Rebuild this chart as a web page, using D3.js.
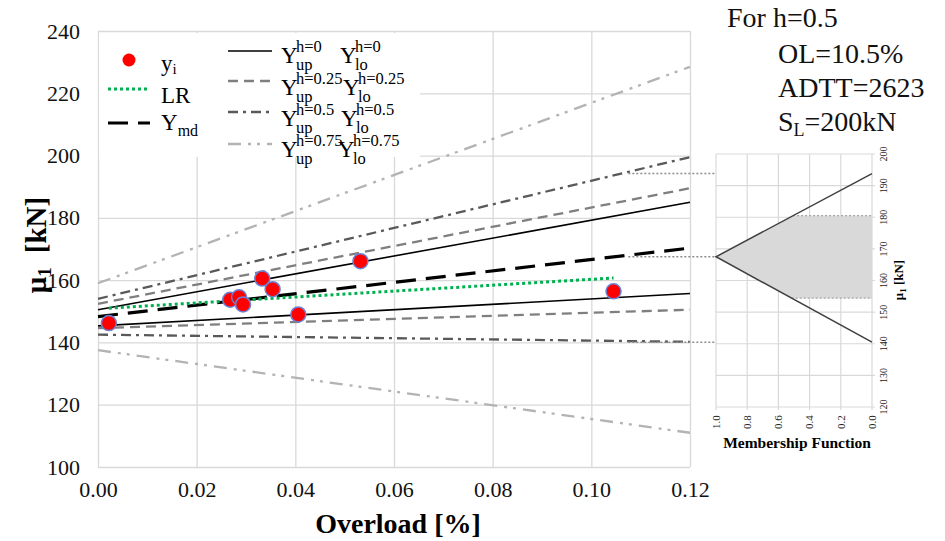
<!DOCTYPE html>
<html><head><meta charset="utf-8">
<script src="https://cdn.jsdelivr.net/npm/d3@7"></script>
<style>body{margin:0;background:#fff;overflow:hidden}</style>
</head><body>
<svg id="c" width="945" height="541"></svg>
<script>
// ---------- data ----------
const overload = [0.0022, 0.0268, 0.0286, 0.0294, 0.0333, 0.0354, 0.0406, 0.0532, 0.1045];
const mu1 = [146.2, 153.7, 154.5, 152.2, 160.5, 157.1, 149.0, 166.1, 156.4];

const lineX = [0, 0.12];
const yUp0 = [150.5, 185.0];
const yLo0 = [145.3, 155.7];
const yUp025 = [152.4, 189.5];
const yLo025 = [144.6, 150.5];
const yUp05 = [154.0, 199.5];
const yLo05 = [142.5, 140.2];
const yUp075 = [159.0, 228.5];
const yLo075 = [137.5, 111.0];
const yMd = [148.3, 170.3];
const lrX = [0.0022, 0.1045];
const lrY = [151.0, 160.7];

const xTickVals = [0, 0.02, 0.04, 0.06, 0.08, 0.10, 0.12];
const yTickVals = [100, 120, 140, 160, 180, 200, 220, 240];

// membership function panel
const mfTickVals = [0, 0.2, 0.4, 0.6, 0.8, 1.0];
const muTickVals = [120, 130, 140, 150, 160, 170, 180, 190, 200];
const mfLevel = [0, 1, 0];
const mfMu = [193.8, 167.5, 140.5];
const band = [154.4, 180.5];
const olCut = 0.1075;

const infoLines = ["For h=0.5", "OL=10.5%", "ADTT=2623"];

// ---------- drawing ----------
const svg = d3.select('#c');

const x = d3.scaleLinear().domain([0, 0.12]).range([98, 690]);
const y = d3.scaleLinear().domain([100, 240]).range([467, 31]);

// axes + grid
const gx = svg.append('g').attr('transform', `translate(0,${y(100)})`)
  .call(d3.axisBottom(x).tickValues(xTickVals).tickSize(-(y(100) - y(240)))
    .tickPadding(14).tickFormat(d3.format('.2f')));
gx.select('.domain').remove();
gx.selectAll('line').attr('stroke', '#d9d9d9').attr('stroke-width', 1.3);
gx.selectAll('text').attr('font-size', 22).attr('fill', '#111');

const gy = svg.append('g').attr('transform', `translate(${x(0)},0)`)
  .call(d3.axisLeft(y).tickValues(yTickVals).tickSize(-(x(0.12) - x(0)))
    .tickPadding(18).tickFormat(d3.format('d')));
gy.select('.domain').remove();
gy.selectAll('line').attr('stroke', '#d9d9d9').attr('stroke-width', 1.3);
gy.selectAll('text').attr('font-size', 22).attr('fill', '#111');

// axis titles
svg.append('text').attr('x', 398).attr('y', 533).attr('text-anchor', 'middle')
  .attr('font-size', 28).attr('font-weight', 'bold').text('Overload [%]');
const yt = svg.append('text').attr('transform', 'translate(46,245) rotate(-90)')
  .attr('text-anchor', 'middle').attr('font-size', 29).attr('font-weight', 'bold');
yt.append('tspan').text('μ');
yt.append('tspan').attr('font-size', 19).attr('dy', 5).text('1');
yt.append('tspan').attr('dy', -5).attr('dx', 14).text('[kN]');

// styles
const styles = {
  h0: {stroke: '#000', width: 1.6, dash: null},
  h025: {stroke: '#7f7f7f', width: 2.3, dash: '10,6'},
  h05: {stroke: '#595959', width: 2.3, dash: '10,5,3,5'},
  h075: {stroke: '#b3b3b3', width: 2.3, dash: '13,7,3,6,3,7'},
  md: {stroke: '#000', width: 3.2, dash: '20,10'},
  lr: {stroke: '#00b050', width: 3, dash: '3,3'}
};
const series = [
  {v: yUp075, s: 'h075'}, {v: yLo075, s: 'h075'},
  {v: yUp05, s: 'h05'}, {v: yLo05, s: 'h05'},
  {v: yUp025, s: 'h025'}, {v: yLo025, s: 'h025'},
  {v: yUp0, s: 'h0'}, {v: yLo0, s: 'h0'},
  {v: yMd, s: 'md'}
];
const line = d3.line().x(d => x(d[0])).y(d => y(d[1]));

// legend background (white box over grid)
svg.append('rect').attr('x', 99).attr('y', 33).attr('width', 321).attr('height', 124).attr('fill', '#fff');

series.forEach(se => {
  const st = styles[se.s];
  svg.append('path').datum(lineX.map((xv, i) => [xv, se.v[i]]))
    .attr('d', line).attr('fill', 'none').attr('stroke', st.stroke)
    .attr('stroke-width', st.width).attr('stroke-dasharray', st.dash);
});
svg.append('path').datum(lrX.map((xv, i) => [xv, lrY[i]]))
  .attr('d', line).attr('fill', 'none').attr('stroke', styles.lr.stroke)
  .attr('stroke-width', styles.lr.width).attr('stroke-dasharray', styles.lr.dash);

// connector dotted lines from main chart to MF panel
const mfX = d3.scaleLinear().domain([1, 0]).range([716, 872]);
const mfY = d3.scaleLinear().domain([120, 200]).range([407, 154]);
mfMu.forEach((m, i) => {
  svg.append('line').attr('x1', x(olCut)).attr('x2', mfX(mfLevel[i]))
    .attr('y1', mfY(m)).attr('y2', mfY(m))
    .attr('stroke', '#8c8c8c').attr('stroke-width', 1.5).attr('stroke-dasharray', '2,2');
});

// data points
svg.append('g').selectAll('circle').data(overload.map((o, i) => [o, mu1[i]])).join('circle')
  .attr('cx', d => x(d[0])).attr('cy', d => y(d[1])).attr('r', 7.5)
  .attr('fill', '#ff0000').attr('stroke', '#6a82d6').attr('stroke-width', 1.5);

// legend
const lg = svg.append('g').attr('font-size', 23);
lg.append('circle').attr('cx', 129).attr('cy', 60).attr('r', 6.5).attr('fill', '#ff0000');
function legLine(x1, x2, yy, st) {
  lg.append('line').attr('x1', x1).attr('x2', x2).attr('y1', yy).attr('y2', yy)
    .attr('stroke', st.stroke).attr('stroke-width', st.width).attr('stroke-dasharray', st.dash);
}
legLine(108, 150, 89, styles.lr);
legLine(108, 150, 123, styles.md);
let t = lg.append('text').attr('x', 161).attr('y', 71);
t.append('tspan').text('y'); t.append('tspan').attr('font-size', 15).attr('dy', 3).text('i');
lg.append('text').attr('x', 161).attr('y', 103).text('LR');
t = lg.append('text').attr('x', 161).attr('y', 130);
t.append('tspan').text('Y'); t.append('tspan').attr('font-size', 16).attr('dy', 6).text('md');

const legRows = [
  {s: 'h0', h: 'h=0', ly: 51, by: 63},
  {s: 'h025', h: 'h=0.25', ly: 81, by: 95},
  {s: 'h05', h: 'h=0.5', ly: 112, by: 126},
  {s: 'h075', h: 'h=0.75', ly: 144, by: 157}
];
const loX = [340, 343, 341, 338];
legRows.forEach((r, i) => {
  legLine(228, 272, r.ly, styles[r.s]);
  [[281, 'up'], [loX[i], 'lo']].forEach(([bx, sub]) => {
    lg.append('text').attr('x', bx).attr('y', r.by).text('Y');
    lg.append('text').attr('x', bx + 15).attr('y', r.by - 11).attr('font-size', 16.5).text(r.h);
    lg.append('text').attr('x', bx + 15).attr('y', r.by + 7).attr('font-size', 16.5).text(sub);
  });
});

// info text top right
const info = svg.append('g').attr('font-size', 28).attr('fill', '#111');
info.append('text').attr('x', 727).attr('y', 27).text(infoLines[0]);
info.append('text').attr('x', 778).attr('y', 63).text(infoLines[1]);
info.append('text').attr('x', 778).attr('y', 97).text(infoLines[2]);
t = info.append('text').attr('x', 778).attr('y', 131);
t.append('tspan').text('S'); t.append('tspan').attr('font-size', 18).attr('dy', 5).text('L');
t.append('tspan').attr('dy', -5).text('=200kN');

// ---------- membership panel ----------
const mp = svg.append('g');
mp.append('rect').attr('x', 716).attr('y', 154).attr('width', 156).attr('height', 253).attr('fill', '#fff');
mp.selectAll('line.gv').data(mfTickVals).join('line').attr('class', 'gv')
  .attr('x1', d => mfX(d)).attr('x2', d => mfX(d)).attr('y1', mfY(200)).attr('y2', mfY(120) + 3)
  .attr('stroke', '#d9d9d9').attr('stroke-width', 1.2);
mp.selectAll('line.gh').data(muTickVals).join('line').attr('class', 'gh')
  .attr('x1', mfX(1)).attr('x2', mfX(0) + 3).attr('y1', d => mfY(d)).attr('y2', d => mfY(d))
  .attr('stroke', '#d9d9d9').attr('stroke-width', 1.2);

const mfUp = v => (mfMu[0] - v) / (mfMu[0] - mfMu[1]);
const mfLo = v => (v - mfMu[2]) / (mfMu[1] - mfMu[2]);
const shade = [[1, mfMu[1]], [mfUp(band[1]), band[1]], [0, band[1]], [0, band[0]], [mfLo(band[0]), band[0]]];
mp.append('path').datum(shade)
  .attr('d', d3.line().x(d => mfX(d[0])).y(d => mfY(d[1])).curve(d3.curveLinearClosed))
  .attr('fill', '#d9d9d9');
band.forEach(b => {
  const m = b > mfMu[1] ? mfUp(b) : mfLo(b);
  mp.append('line').attr('x1', mfX(m)).attr('x2', mfX(0)).attr('y1', mfY(b)).attr('y2', mfY(b))
    .attr('stroke', '#a6a6a6').attr('stroke-width', 1.2).attr('stroke-dasharray', '2,2');
});
mp.append('path').datum(mfLevel.map((l, i) => [l, mfMu[i]]))
  .attr('d', d3.line().x(d => mfX(d[0])).y(d => mfY(d[1])))
  .attr('fill', 'none').attr('stroke', '#404040').attr('stroke-width', 1.5);

mp.selectAll('text.mu').data(muTickVals).join('text').attr('class', 'mu')
  .attr('transform', d => `translate(883,${mfY(d)}) rotate(-90)`)
  .attr('text-anchor', 'middle').attr('dy', '0.35em').attr('font-size', 10).attr('fill', '#222')
  .text(d => d);
mp.selectAll('text.mf').data(mfTickVals).join('text').attr('class', 'mf')
  .attr('transform', d => `translate(${mfX(d)},422) rotate(-90)`)
  .attr('text-anchor', 'middle').attr('dy', '0.35em').attr('font-size', 11).attr('fill', '#222')
  .text(d => d3.format('.1f')(d));
t = mp.append('text').attr('transform', 'translate(903,280) rotate(-90)')
  .attr('text-anchor', 'middle').attr('font-size', 13).attr('font-weight', 'bold');
t.append('tspan').text('μ'); t.append('tspan').attr('font-size', 9).attr('dy', 3).text('1');
t.append('tspan').attr('dy', -3).text(' [kN]');
mp.append('text').attr('x', 797).attr('y', 448).attr('text-anchor', 'middle')
  .attr('font-size', 15.5).attr('font-weight', 'bold').text('Membership Function');

// serif everywhere
svg.selectAll('text').style('font-family', "'Liberation Serif'");
</script>
</body></html>
